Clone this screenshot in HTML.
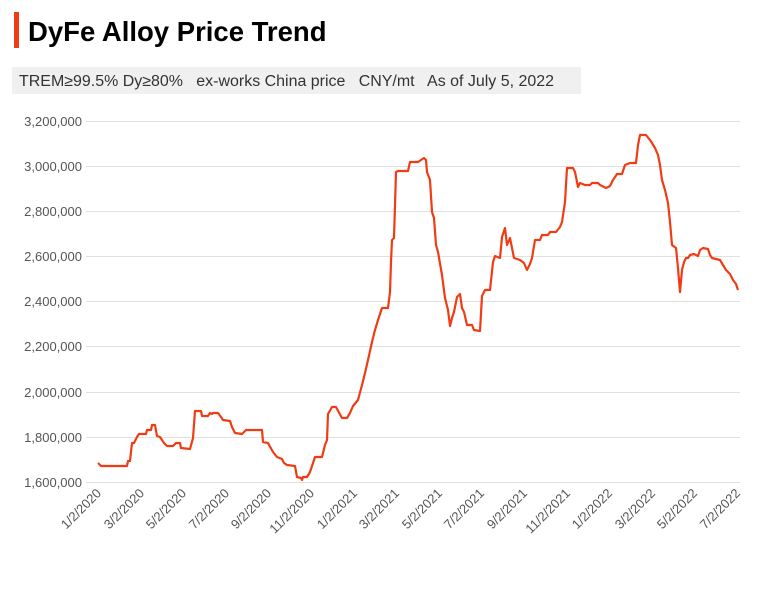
<!DOCTYPE html>
<html><head><meta charset="utf-8"><style>
body{margin:0;background:#fff;width:765px;height:606px;overflow:hidden;font-family:"Liberation Sans",sans-serif;}
</style></head><body>
<svg width="765" height="606" xmlns="http://www.w3.org/2000/svg" font-family="Liberation Sans, sans-serif">
<rect x="14" y="12" width="5" height="36" fill="#f03c14"/>
<text x="28" y="41" font-size="27.5" font-weight="bold" fill="#000">DyFe Alloy Price Trend</text>
<rect x="12" y="67" width="569" height="27" fill="#f0f0f0"/>
<text x="19" y="86" font-size="15.5" fill="#333" style="white-space:pre" xml:space="preserve" textLength="535" lengthAdjust="spacingAndGlyphs">TREM≥99.5% Dy≥80%   ex-works China price   CNY/mt   As of July 5, 2022</text>
<g stroke="#e0e0e0" stroke-width="1">
<line x1="86" x2="740" y1="121.5" y2="121.5"/><line x1="86" x2="740" y1="166.5" y2="166.5"/>
<line x1="86" x2="740" y1="211.5" y2="211.5"/><line x1="86" x2="740" y1="256.5" y2="256.5"/>
<line x1="86" x2="740" y1="301.5" y2="301.5"/><line x1="86" x2="740" y1="346.5" y2="346.5"/>
<line x1="86" x2="740" y1="392.5" y2="392.5"/><line x1="86" x2="740" y1="437.5" y2="437.5"/>
<line x1="86" x2="740" y1="482.5" y2="482.5"/>
</g>
<g font-size="13" fill="#555" text-anchor="end">
<text x="82" y="126">3,200,000</text><text x="82" y="171">3,000,000</text>
<text x="82" y="216">2,800,000</text><text x="82" y="261">2,600,000</text>
<text x="82" y="306">2,400,000</text><text x="82" y="351">2,200,000</text>
<text x="82" y="397">2,000,000</text><text x="82" y="442">1,800,000</text>
<text x="82" y="487">1,600,000</text>
</g>
<g font-size="13" fill="#555" text-anchor="end">
<text transform="translate(102,494) rotate(-45)">1/2/2020</text>
<text transform="translate(145,494) rotate(-45)">3/2/2020</text>
<text transform="translate(187,494) rotate(-45)">5/2/2020</text>
<text transform="translate(230,494) rotate(-45)">7/2/2020</text>
<text transform="translate(272,494) rotate(-45)">9/2/2020</text>
<text transform="translate(315,494) rotate(-45)">11/2/2020</text>
<text transform="translate(358,494) rotate(-45)">1/2/2021</text>
<text transform="translate(400,494) rotate(-45)">3/2/2021</text>
<text transform="translate(443,494) rotate(-45)">5/2/2021</text>
<text transform="translate(485,494) rotate(-45)">7/2/2021</text>
<text transform="translate(528,494) rotate(-45)">9/2/2021</text>
<text transform="translate(571,494) rotate(-45)">11/2/2021</text>
<text transform="translate(613,494) rotate(-45)">1/2/2022</text>
<text transform="translate(656,494) rotate(-45)">3/2/2022</text>
<text transform="translate(698,494) rotate(-45)">5/2/2022</text>
<text transform="translate(741,494) rotate(-45)">7/2/2022</text>
</g>
<polyline fill="none" stroke="#f03c14" stroke-width="2.2" stroke-linejoin="round" points="98,463 101,466 127,466 128,461 130,461 132,443 134,443 137,437 139,434 146,434 147,430 151,430 152,425 155,425 157,436 160,437 164,443 167,446 173,446 176,443 180,443 181,448 190,449 193,438 195,411 201,411 202,416 208,416 210,413 212,414 213,413 218,413 221,417 223,420 230,421 232,427 235,433 242,434 246,430 262,430 263,442 268,443 273,452 277,457 282,459 284,463 287,465 295,466 297,477 301,478 302,480 303,477 307,477 310,472 313,463 315,457 322,457 325,445 327,440 328,414 332,407 336,407 342,418 347,418 350,413 353,406 358,400 362,385 365,373 368,360 372,342 375,330 378,320 382,308 388,308 390,292 391,262 392,240 394,238 396,172 398,171 408,171 410,162 418,162 424,158 426,160 427,172 430,180 432,212 434,218 436,245 438,252 442,275 445,298 448,310 450,326 452,318 454,312 457,297 460,294 462,308 464,312 467,325 472,325 474,330 480,331 482,296 485,290 490,290 493,262 495,256 500,258 502,237 505,228 507,245 510,238 514,258 520,260 524,263 527,270 530,264 532,258 535,240 540,240 542,235 548,235 550,232 556,232 560,227 562,222 565,202 567,168 573,168 575,172 578,187 580,183 585,185 590,185 592,183 598,183 600,185 606,188 610,186 613,180 617,174 622,174 625,165 630,163 636,163 638,145 640,135 646,135 650,140 652,143 655,148 658,155 660,165 662,180 665,190 668,203 670,222 672,245 676,248 678,268 680,292 682,270 684,262 686,258 688,258 690,255 694,254 698,256 700,250 703,248 708,249 710,255 712,258 720,260 723,265 726,270 730,274 733,280 736,284 738,290"/>
</svg>
</body></html>
